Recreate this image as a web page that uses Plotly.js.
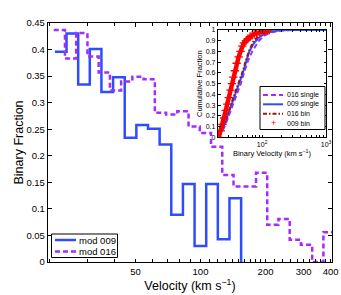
<!DOCTYPE html>
<html><head><meta charset="utf-8">
<script src="https://cdn.plot.ly/plotly-3.0.1.min.js"></script>
<style>html,body{margin:0;padding:0;background:#fff}#chart{width:341px;height:295px}</style>
</head><body><div id="chart"></div>
<script>
// ---- main histogram data (velocity bin edges in km/s, binary fraction per bin)
const edges009 = [21.2,24.0,27.17,30.75,34.81,39.4,44.61,50.5,57.17,64.71,73.26,82.94,93.89,106.3,120.3,136.2,154.2];
const frac009  = [0.396,0.430,0.334,0.401,0.320,0.348,0.234,0.258,0.251,0.221,0.089,0.147,0.030,0.147,0.043,0.120];
const edges016 = [20.94,23.6,26.6,29.99,33.8,38.1,42.94,48.4,54.56,61.5,69.32,78.13,88.07,99.27,111.9,126.1,142.2,160.3,180.7,203.6,229.5,258.7,291.6,328.7,370.5,417.6];
const frac016  = [0.437,0.383,0.431,0.387,0.357,0.323,0.340,0.349,0.344,0.281,0.2775,0.284,0.255,0.243,0.217,0.164,0.142,0.142,0.168,0.070,0.081,0.042,0.0325,0.0,0.056];
const seriesNames = ['mod 009','mod 016'];
const xTickLabels = [50,100,200,300,400];
const xMinorTicks = [20,30,40,60,70,80,90,110,120,130,140,150,160,170,180,190,220,240,260,280,320,340,360,380];
const yTickVals = [0,0.05,0.1,0.15,0.2,0.25,0.3,0.35,0.4,0.45];

// ---- inset cumulative distributions (velocity, cumulative fraction)
const v016single = [21,26,31,36,41,46.4,52,59,70,89,110,140,200,300,1000];
const F016single = [0,0.1,0.22,0.32,0.42,0.5,0.6,0.7,0.8,0.9,0.95,0.98,0.995,1,1];
const v009single = [21,25,30,35,40,44,50,56,63,75,90,110,140,200,300,1000];
const F009single = [0,0.1,0.23,0.34,0.44,0.5,0.6,0.7,0.8,0.88,0.93,0.965,0.985,0.997,1,1];
const v016bin = [21,25,30,35,40,43,50,56,63,74,90,110,140];
const F016bin = [0,0.11,0.24,0.36,0.46,0.5,0.62,0.72,0.81,0.9,0.95,0.98,1.0];
const v009bin = [21,22.5,24,25.5,27,28.5,30,32,33.7,35.5,37.5,40,43,46,49,52,56,60,65,70,75,82,90,100,110,120,130];
const F009bin = [0,0.06,0.12,0.18,0.25,0.31,0.37,0.44,0.5,0.56,0.62,0.69,0.75,0.8,0.85,0.88,0.9,0.92,0.94,0.95,0.96,0.97,0.98,0.985,0.99,0.995,1.0];
const insetNames = ['016 single','009 single','016 bin','009 bin'];
const insetTickVals = [100,1000];
const insetTickText = ['10<sup>2</sup>','10<sup>3</sup>'];
const insetMinorTicks = [20,30,40,50,60,70,80,90,200,300,400,500,600,700,800,900];
const insetYTicks = [0,0.1,0.2,0.3,0.4,0.5,0.6,0.7,0.8,0.9,1];

const blue = '#2f4dff', purple = '#a52bff', darkred = '#8e1c12', red = '#ff0000';
const FONT = 'Liberation Sans, Arial, sans-serif';
const DASH = '5px,3px', DASHDOT = '4px,2px,1.5px,2px';

function stairsY(vals, last){ return vals.concat([last]); }

const traces = [
  {x: edges009, y: stairsY(frac009, 0), mode:'lines', line:{shape:'hv', color:blue, width:2.5}, name:seriesNames[0], xaxis:'x', yaxis:'y'},
  {x: edges016, y: stairsY(frac016, frac016[frac016.length-1]), mode:'lines', line:{shape:'hv', color:purple, width:2.5, dash:DASH}, name:seriesNames[1], xaxis:'x', yaxis:'y'},
  {x: v016single, y: F016single, mode:'lines', line:{color:purple, width:2, dash:DASH}, name:insetNames[0], xaxis:'x2', yaxis:'y2'},
  {x: v009single, y: F009single, mode:'lines', line:{color:blue, width:2}, name:insetNames[1], xaxis:'x2', yaxis:'y2'},
  {x: v016bin, y: F016bin, mode:'lines', line:{color:darkred, width:2, dash:DASHDOT}, name:insetNames[2], xaxis:'x2', yaxis:'y2'},
  {x: v009bin, y: F009bin, mode:'lines+markers', line:{color:red, width:4.5}, marker:{symbol:'cross-thin-open', size:6, color:red, line:{color:red,width:1.3}}, name:insetNames[3], xaxis:'x2', yaxis:'y2'}
];

// paper-coordinate helpers (plot area: left 48, top 23, width 284, height 239 px)
const px = v => (v - 48) / 284;
const py = v => (262 - v) / 239;

const shapes = [
  {type:'rect', xref:'paper', yref:'paper', x0:0.5986, x1:0.9789, y0:0.5218, y1:0.9707, fillcolor:'#fff', line:{width:0}, layer:'below'},
  // main legend
  {type:'rect', xref:'paper', yref:'paper', x0:px(51.5), x1:px(117.5), y0:py(257.5), y1:py(234), fillcolor:'#fff', line:{color:'#000', width:1}},
  {type:'line', xref:'paper', yref:'paper', x0:px(55), x1:px(76), y0:py(240), y1:py(240), line:{color:blue, width:2.5}},
  {type:'line', xref:'paper', yref:'paper', x0:px(55), x1:px(76), y0:py(251.5), y1:py(251.5), line:{color:purple, width:2.5, dash:DASH}},
  // inset legend
  {type:'rect', xref:'paper', yref:'paper', x0:px(260), x1:px(325), y0:py(129.5), y1:py(86.5), fillcolor:'#fff', line:{color:'#000', width:1}},
  {type:'line', xref:'paper', yref:'paper', x0:px(263), x1:px(283), y0:py(95), y1:py(95), line:{color:purple, width:2, dash:DASH}},
  {type:'line', xref:'paper', yref:'paper', x0:px(263), x1:px(283), y0:py(104.3), y1:py(104.3), line:{color:blue, width:2}},
  {type:'line', xref:'paper', yref:'paper', x0:px(263), x1:px(283), y0:py(113.7), y1:py(113.7), line:{color:darkred, width:2, dash:DASHDOT}}
];

const ann = (x, y, text, size, color) => ({xref:'paper', yref:'paper', x:px(x), y:py(y), text, showarrow:false, xanchor:'left', yanchor:'middle', font:{size, color:color||'#000'}});
const annotations = [
  ann(77, 240, seriesNames[0], 9.5),
  ann(77, 251.5, seriesNames[1], 9.5),
  ann(284.5, 95, insetNames[0], 7),
  ann(284.5, 104.3, insetNames[1], 7),
  ann(284.5, 113.7, insetNames[2], 7),
  ann(284.5, 123, insetNames[3], 7),
  {xref:'paper', yref:'paper', x:px(273.3), y:py(123), text:'+', showarrow:false, xanchor:'center', yanchor:'middle', font:{size:9, color:red}}
];

const axBase = {ticks:'inside', tickcolor:'#000', tickwidth:1, showline:true, linecolor:'#000', linewidth:1.2, mirror:'allticks', showgrid:false, zeroline:false};

const layout = {
  width: 341, height: 295,
  margin: {l:48, r:9, t:23, b:33},
  paper_bgcolor:'#fff', plot_bgcolor:'#fff',
  font: {family: FONT, size: 9.5, color:'#000'},
  showlegend: false,
  xaxis: Object.assign({}, axBase, {
    type:'log', range:[Math.log10(19.7), Math.log10(406)], domain:[0,1],
    tickmode:'array', tickvals: xTickLabels, ticktext: xTickLabels.map(String), ticklen:3.5,
    minor:{tickmode:'array', tickvals:xMinorTicks, ticks:'inside', ticklen:3, tickcolor:'#000', showgrid:false},
    tickfont:{size:9.5},
    title:{text:'Velocity (km s<sup>−1</sup>)', font:{size:12.5}, standoff:3}
  }),
  yaxis: Object.assign({}, axBase, {
    range:[0,0.45], domain:[0,1],
    tickmode:'array', tickvals: yTickVals, ticklen:4,
    tickfont:{size:9.5},
    title:{text:'Binary Fraction', font:{size:12.5}, standoff:0}
  }),
  xaxis2: Object.assign({}, axBase, {
    type:'log', range:[1.31, 3.0], domain:[0.5986, 0.9789], anchor:'y2',
    tickmode:'array', tickvals: insetTickVals, ticktext: insetTickText, ticklen:2.5,
    minor:{tickmode:'array', tickvals:insetMinorTicks, ticks:'inside', ticklen:2, tickcolor:'#000', showgrid:false},
    tickfont:{size:7},
    title:{text:'Binary Velocity (km s<sup>−1</sup>)', font:{size:7.5}, standoff:2}
  }),
  yaxis2: Object.assign({}, axBase, {
    range:[0,1], domain:[0.5218, 0.9707], anchor:'x2',
    tickmode:'array', tickvals: insetYTicks, ticktext: insetYTicks.map(String), ticklen:2.5,
    tickfont:{size:7},
    title:{text:'Cumulative Fraction', font:{size:7.5}, standoff:2}
  }),
  shapes, annotations
};

Plotly.newPlot('chart', traces, layout, {displayModeBar:false, staticPlot:true});
</script>
</body></html>
